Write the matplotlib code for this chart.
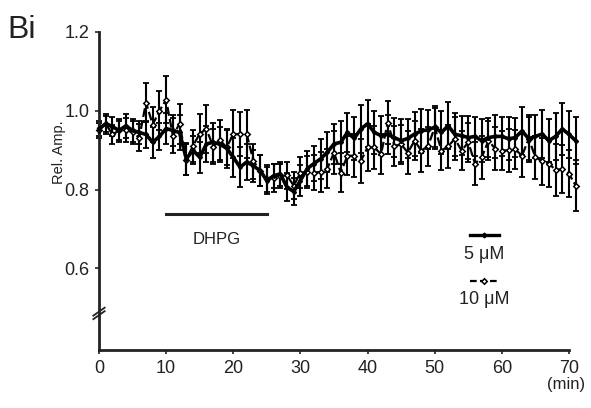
import matplotlib
matplotlib.use('Agg')
import matplotlib.pyplot as plt
import numpy as np

plt.rcParams['font.family'] = ['Liberation Sans', 'DejaVu Sans']

## DATA
t = np.arange(0, 72)

amp_5uM = [0.955, 0.967, 0.960, 0.950, 0.962, 0.950, 0.945, 0.940, 0.920, 0.935,
           0.955, 0.950, 0.945, 0.878, 0.900, 0.882, 0.916, 0.920, 0.915, 0.905,
           0.882, 0.857, 0.870, 0.860, 0.848, 0.823, 0.835, 0.840, 0.806, 0.795,
           0.823, 0.853, 0.866, 0.878, 0.895, 0.916, 0.920, 0.945, 0.930, 0.954,
           0.967, 0.945, 0.937, 0.940, 0.932, 0.924, 0.930, 0.941, 0.949, 0.952,
           0.958, 0.945, 0.962, 0.940, 0.937, 0.932, 0.935, 0.924, 0.932, 0.935,
           0.935, 0.929, 0.932, 0.949, 0.929, 0.935, 0.941, 0.924, 0.935, 0.954,
           0.940, 0.924]
err_5uM = [0.020, 0.020, 0.025, 0.025, 0.030, 0.030, 0.030, 0.035, 0.040, 0.035,
           0.040, 0.040, 0.045, 0.040, 0.035, 0.040, 0.045, 0.050, 0.045, 0.050,
           0.050, 0.050, 0.045, 0.040, 0.040, 0.035, 0.030, 0.030, 0.035, 0.035,
           0.040, 0.045, 0.045, 0.050, 0.050, 0.050, 0.055, 0.050, 0.055, 0.060,
           0.060, 0.055, 0.050, 0.050, 0.050, 0.055, 0.050, 0.055, 0.055, 0.050,
           0.050, 0.055, 0.060, 0.055, 0.050, 0.055, 0.050, 0.055, 0.050, 0.055,
           0.050, 0.055, 0.050, 0.060, 0.055, 0.055, 0.060, 0.055, 0.060, 0.065,
           0.060, 0.060]

amp_10uM = [0.950, 0.967, 0.940, 0.950, 0.952, 0.945, 0.932, 1.021, 0.965, 1.000,
            1.028, 0.937, 0.967, 0.876, 0.911, 0.942, 0.954, 0.909, 0.926, 0.907,
            0.941, 0.941, 0.941, 0.872, 0.848, 0.828, 0.830, 0.835, 0.836, 0.810,
            0.843, 0.845, 0.843, 0.845, 0.853, 0.894, 0.843, 0.886, 0.886, 0.873,
            0.907, 0.907, 0.890, 0.970, 0.911, 0.915, 0.894, 0.924, 0.899, 0.910,
            0.958, 0.899, 0.910, 0.929, 0.899, 0.920, 0.866, 0.882, 0.924, 0.904,
            0.899, 0.900, 0.902, 0.886, 0.929, 0.882, 0.872, 0.866, 0.850, 0.852,
            0.840, 0.810]
err_10uM = [0.020, 0.025, 0.025, 0.030, 0.030, 0.030, 0.035, 0.050, 0.045, 0.050,
            0.060, 0.045, 0.050, 0.040, 0.040, 0.050, 0.060, 0.045, 0.050, 0.045,
            0.060, 0.055, 0.060, 0.045, 0.040, 0.035, 0.035, 0.030, 0.035, 0.035,
            0.040, 0.040, 0.045, 0.050, 0.050, 0.055, 0.050, 0.050, 0.055, 0.055,
            0.060, 0.055, 0.050, 0.055, 0.050, 0.050, 0.055, 0.050, 0.055, 0.050,
            0.055, 0.050, 0.055, 0.055, 0.050, 0.050, 0.055, 0.055, 0.050, 0.055,
            0.050, 0.055, 0.050, 0.055, 0.060, 0.055, 0.060, 0.060, 0.065, 0.060,
            0.060, 0.065]

dhpg_start, dhpg_end, dhpg_level = 10, 25, 0.737

yticks = [0.6, 0.8, 1.0, 1.2]
xticks = [0, 10, 20, 30, 40, 50, 60, 70]

## PLOT
fig = plt.figure(figsize=(5.91, 4.08), dpi=100)
ax = fig.add_axes([0.1675, 0.1422, 0.7953, 0.7794])

ax.errorbar(t, amp_10uM, yerr=err_10uM, fmt='none', ecolor='black',
            elinewidth=1.5, capsize=2.2, capthick=1.3, clip_on=False, zorder=2)
ax.errorbar(t, amp_5uM, yerr=err_5uM, fmt='none', ecolor='black',
            elinewidth=1.5, capsize=2.2, capthick=1.3, clip_on=False, zorder=2)

ax.plot(t, amp_10uM, color='black', lw=1.6, ls=(0, (4, 1.5)), marker='D',
        ms=2.8, mfc='white', mec='black', mew=1.1, clip_on=False, zorder=3)
ax.plot(t, amp_5uM, color='black', lw=2.6, marker='D', ms=2.0,
        mfc='black', mec='black', clip_on=False, zorder=4)

# DHPG bar
ax.plot([dhpg_start, dhpg_end], [dhpg_level, dhpg_level], color='#222222', lw=2.2)
ax.text((dhpg_start + dhpg_end) / 2, dhpg_level - 0.045, 'DHPG',
        ha='center', va='top', fontsize=12, color='#222222')

# legend drawn by hand
ax.plot([55.3, 59.5], [0.686, 0.686], color='black', lw=2.4)
ax.plot([57.4], [0.686], color='black', marker='D', ms=2.4)
ax.text(57.4, 0.636, '5 \u03bcM', ha='center', va='center', fontsize=13, color='#222222')
ax.plot([55.3, 59.5], [0.568, 0.568], color='black', lw=1.6, ls=(0, (3, 1.5)))
ax.plot([57.4], [0.568], color='black', marker='D', ms=2.8, mfc='white', mew=1.1)
ax.text(57.4, 0.521, '10 \u03bcM', ha='center', va='center', fontsize=13, color='#222222')

ax.set_xlim(0, 70)
ax.set_ylim(0.393, 1.2)
ax.set_xticks(xticks)
ax.set_yticks(yticks)
ax.set_yticklabels(['%.1f' % v for v in yticks])

for side in ['top', 'right']:
    ax.spines[side].set_visible(False)
for side in ['left', 'bottom']:
    ax.spines[side].set_linewidth(2)
    ax.spines[side].set_color('#222222')
ax.tick_params(direction='out', length=3, width=1.2, colors='#222222',
               labelsize=13, pad=4)

ax.set_ylabel('Rel. Amp.', fontsize=10.5, color='#222222')
ax.yaxis.set_label_coords(-0.07, 0.623)
fig.text(0.958, 0.058, '(min)', ha='center', va='center', fontsize=12, color='#222222')
fig.text(0.012, 0.907, 'Bi', ha='left', va='baseline', fontsize=23, color='#222222')

# axis break marks
for dy in [-0.011, 0.0]:
    ax.plot([-0.012, 0.012], [0.108 + dy, 0.133 + dy], transform=ax.transAxes,
            color='#222222', lw=1.3, clip_on=False)

fig.savefig('out.png', dpi=100)
